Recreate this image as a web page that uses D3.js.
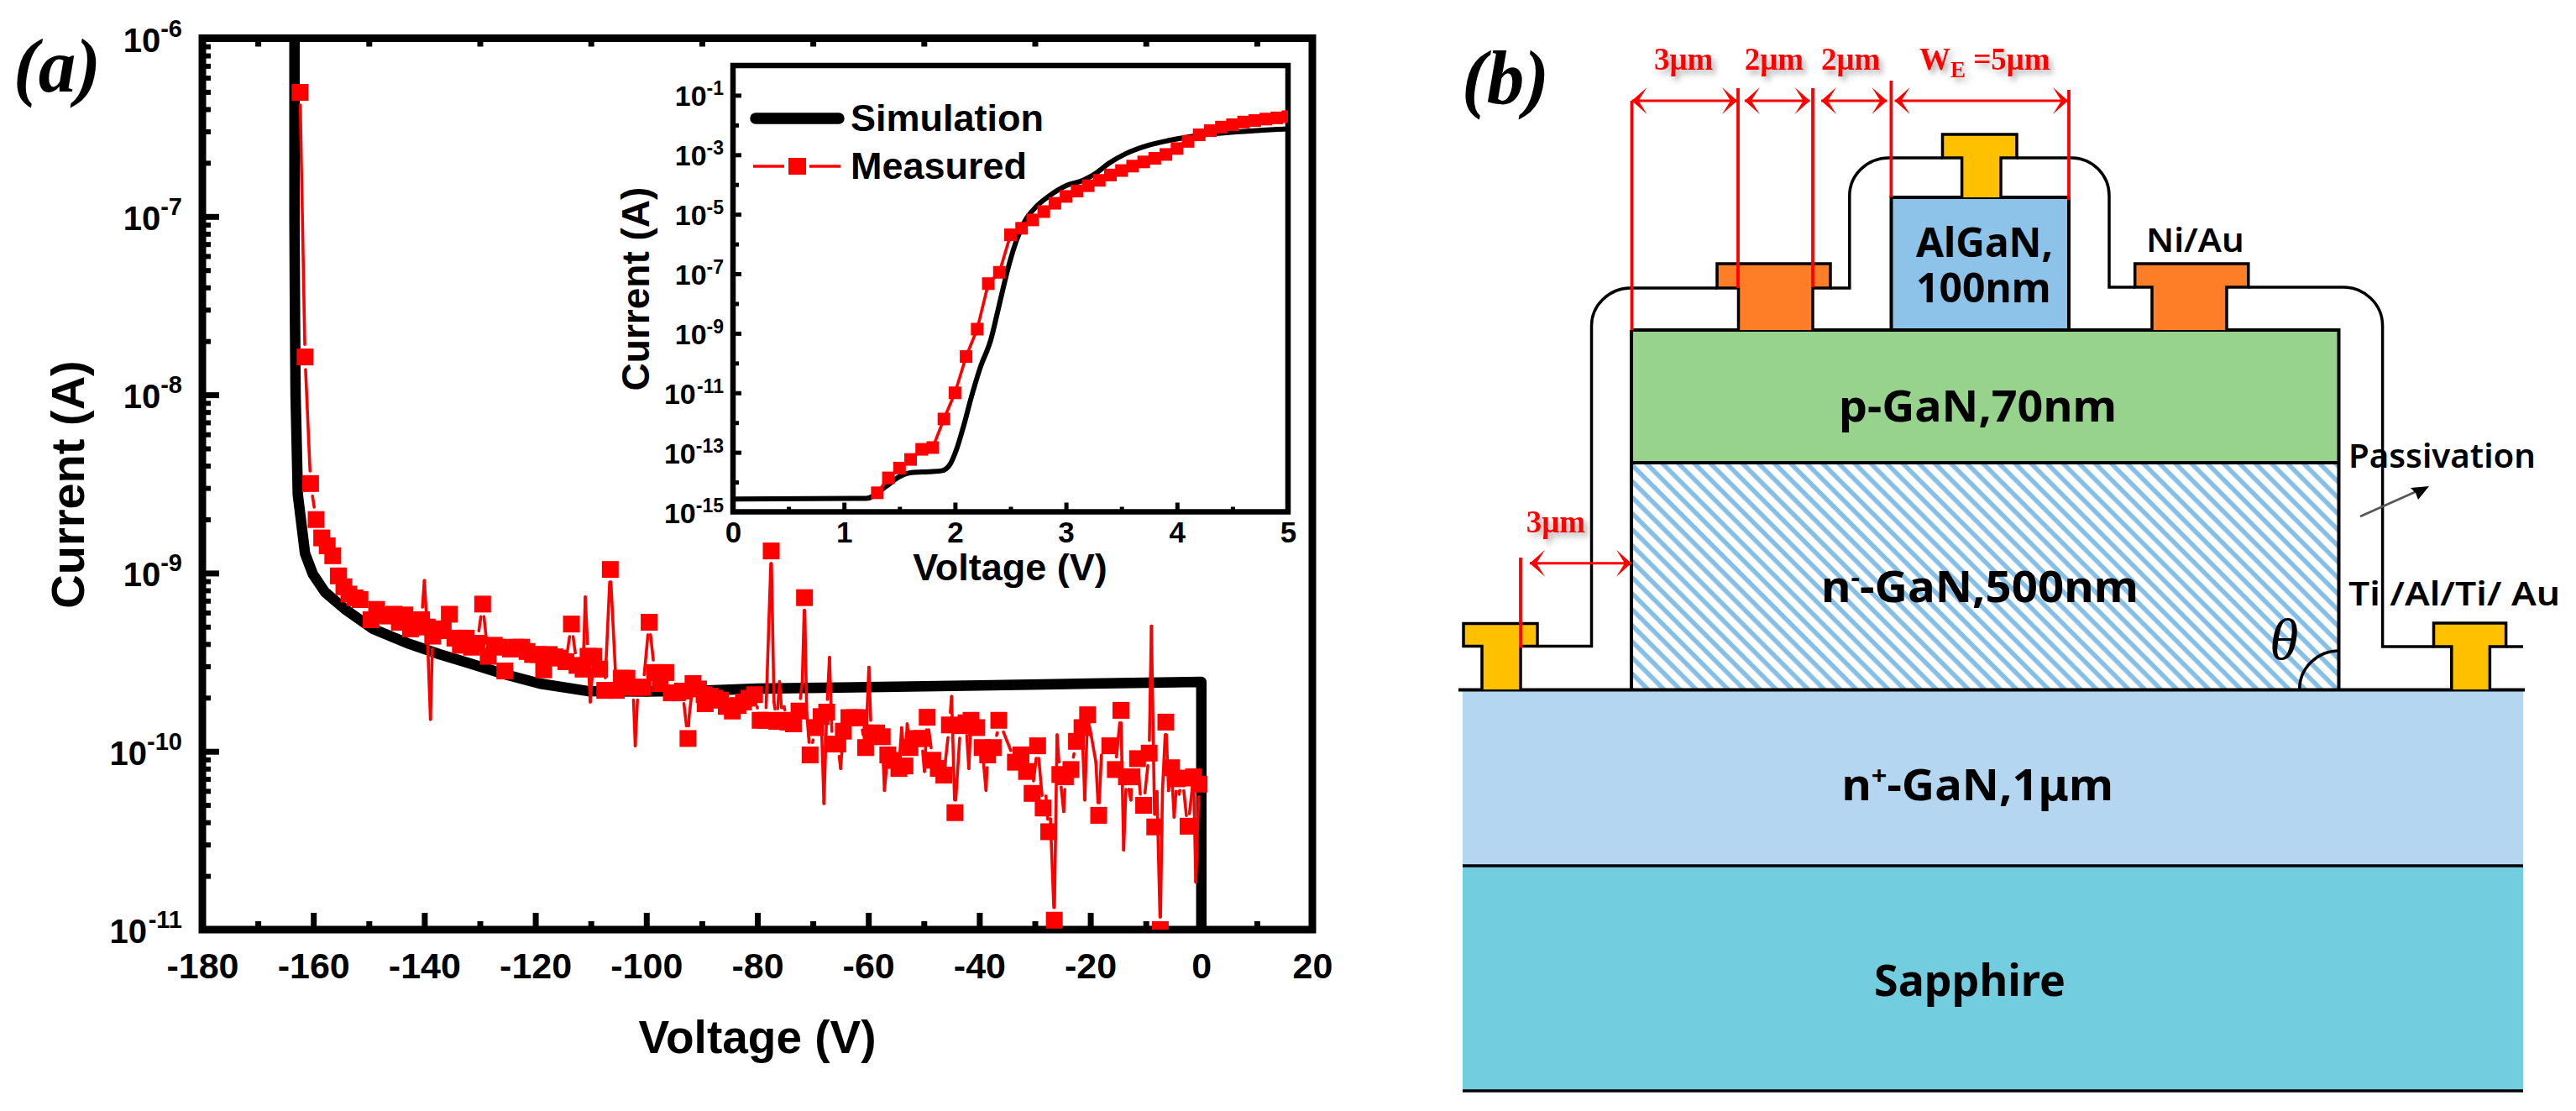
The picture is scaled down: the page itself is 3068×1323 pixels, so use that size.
<!DOCTYPE html>
<html><head><meta charset="utf-8">
<script src="https://cdn.jsdelivr.net/npm/d3@7"></script>
<style>html,body{margin:0;padding:0;background:#fff}svg{display:block}</style></head>
<body><div id="chart"></div>
<script>
// ---------- Panel (a): data, current given as log10(I/A) ----------
const simV=[-163.4,-163.4,-163.3,-163.2,-162.8,-161.5,-160.1,-157.9,-154,-149.2,-143,-137.3,-131.8,-125.5,-119.2,-110.6,-100,-90,-80,-60,-40,-20,0,0];
const simLog=[-6,-7,-7.6,-8,-8.56,-8.89,-9.005,-9.107,-9.21,-9.314,-9.394,-9.455,-9.507,-9.568,-9.62,-9.662,-9.665,-9.66,-9.648,-9.64,-9.63,-9.62,-9.61,-11];
const markerV=[-162.4,-161.5,-160.5,-159.5,-158.5,-157.5,-156.5,-155.5,-154.5,-153.6,-152.5,-151.6,-149.6,-148.6,-147.5,-146.5,-145.5,-144.5,-143.5,-142.5,-141.5,-140.5,-139.5,-138.5,-137.4,-136.6,-135.5,-134.5,-133.5,-132.5,-131.5,-130.5,-129.5,-128.5,-127.4,-126.5,-125.5,-124.5,-123.5,-122.5,-121.5,-120.5,-119.5,-118.5,-117.5,-116.5,-115.5,-114.5,-113.5,-112.5,-111.4,-110.5,-109.5,-108.4,-107.5,-106.5,-105.4,-104.5,-103.5,-102.4,-101.5,-100.6,-99.5,-98.5,-97.5,-96.5,-95.5,-94.4,-93.5,-92.5,-91.6,-90.6,-89.6,-89.4,-88.6,-87.7,-86.6,-85.6,-84.5,-83.5,-82.5,-81.5,-80.5,-79.5,-78.5,-77.5,-76.5,-75.5,-74.5,-73.5,-72.5,-71.5,-70.5,-69.5,-68.5,-67.5,-66.5,-65.5,-64.5,-63.5,-62.5,-61.5,-60.5,-59.5,-58.5,-57.5,-56.5,-55.5,-54.5,-53.4,-52.5,-51.4,-50.4,-49.4,-48.4,-47.4,-46.4,-45.4,-44.4,-43.4,-42.4,-41.5,-40.5,-39.5,-38.5,-37.5,-36.5,-33.5,-32.5,-31.5,-30.5,-29.5,-28.5,-27.5,-26.5,-25.5,-24.5,-23.5,-22.5,-21.5,-20.5,-18.5,-16.5,-15.5,-14.5,-13.5,-12.5,-11.5,-10.4,-9.4,-8.4,-7.4,-6.4,-5.4,-4.4,-3.4,-2.4,-1.4,-0.4];
const markerLog=[-6.304,-7.788,-8.498,-8.70,-8.803,-8.847,-8.903,-9.016,-9.077,-9.118,-9.139,-9.149,-9.262,-9.204,-9.235,-9.241,-9.231,-9.276,-9.235,-9.313,-9.282,-9.262,-9.303,-9.354,-9.313,-9.323,-9.231,-9.365,-9.405,-9.365,-9.416,-9.394,-9.174,-9.467,-9.405,-9.416,-9.549,-9.426,-9.416,-9.416,-9.44,-9.457,-9.457,-9.543,-9.457,-9.47,-9.477,-9.497,-9.286,-9.518,-9.539,-9.467,-9.467,-9.539,-9.658,-8.98,-9.658,-9.59,-9.59,-9.641,-9.641,-9.641,-9.276,-9.558,-9.62,-9.558,-9.672,-9.672,-9.662,-9.928,-9.62,-9.65,-9.682,-9.733,-9.69,-9.702,-9.713,-9.748,-9.774,-9.743,-9.723,-9.702,-9.682,-9.826,-9.826,-8.876,-9.832,-9.826,-9.836,-9.846,-9.774,-9.138,-10.02,-9.867,-9.805,-9.78,-9.959,-9.959,-9.887,-9.811,-9.811,-9.811,-9.979,-9.897,-9.897,-9.918,-10.02,-10.051,-10.096,-10.082,-9.979,-9.928,-9.928,-9.809,-10.05,-10.096,-10.133,-9.852,-10.344,-9.856,-9.84,-9.826,-9.867,-9.979,-10.02,-9.979,-9.826,-10.061,-10.02,-10.113,-10.236,-9.969,-10.318,-10.451,-10.947,-10.13,-10.143,-10.102,-9.944,-9.867,-9.795,-10.359,-9.969,-10.102,-9.77,-10.143,-10.143,-10.041,-10.303,-10.01,-10.424,-11,-9.836,-10.092,-10.154,-10.15,-10.42,-10.143,-10.184];
const spikeV=[-140,-138.9,-111,-110.1,-102,-92.3,-77,-76,-75.2,-71.9,-71.1,-68,-67,-65,-59.9,-57.1,-54,-53,-49.9,-45,-41.9,-38.8,-36.8,-28,-27.2,-26,-24.8,-21,-19,-18,-14,-12.7,-11,-9,-8,-7,-5.9,-4.9,-4,-2.7,-1];
const spikeLog=[-9.042,-9.821,-9.134,-9.723,-9.969,-9.805,-9.723,-9.61,-9.75,-9.61,-9.785,-10.293,-9.473,-10.096,-9.528,-10.219,-9.867,-9.846,-10.113,-9.692,-10.096,-10.219,-9.9,-10.25,-10.379,-9.908,-10.338,-10.273,-10.06,-10.02,-10.554,-10.273,-10.24,-9.298,-10.225,-10.215,-10.22,-10.369,-10.24,-10.36,-10.734];
// inset
const insetSimV=[0,1.2,1.378,1.493,1.609,1.763,1.879,1.956,2.014,2.072,2.149,2.226,2.323,2.4,2.477,2.554,2.631,2.73,2.845,2.999,3.153,3.27,3.386,3.54,3.733,3.926,4.158,4.466,4.775,5];
const insetSimLog=[-14.57,-14.55,-14.15,-13.83,-13.68,-13.65,-13.62,-13.40,-12.90,-12.19,-11.12,-10.17,-9.21,-8.02,-6.83,-5.88,-5.22,-4.75,-4.39,-4.04,-3.86,-3.62,-3.29,-2.96,-2.69,-2.52,-2.37,-2.25,-2.17,-2.13];
const insetMeasV=[1.3,1.4,1.5,1.6,1.7,1.8,1.9,2.0,2.1,2.2,2.3,2.4,2.5,2.6,2.7,2.8,2.9,3.0,3.1,3.2,3.3,3.4,3.5,3.6,3.7,3.8,3.9,4.0,4.1,4.2,4.3,4.4,4.5,4.6,4.7,4.8,4.9,5.0];
const insetMeasLog=[-14.36,-13.86,-13.53,-13.24,-12.90,-12.84,-11.88,-11.0,-9.78,-8.86,-7.33,-6.95,-5.69,-5.47,-5.19,-4.91,-4.63,-4.40,-4.22,-4.04,-3.86,-3.68,-3.53,-3.38,-3.24,-3.12,-2.99,-2.79,-2.55,-2.33,-2.19,-2.07,-1.99,-1.90,-1.85,-1.80,-1.76,-1.72];
const xMajor=[-180,-160,-140,-120,-100,-80,-60,-40,-20,0,20];
const xMinor=[-170,-150,-130,-110,-90,-70,-50,-30,-10,10];
const yExponents=[-6,-7,-8,-9,-10,-11];
const insetXMajor=[0,1,2,3,4,5];
const insetXMinor=[0.5,1.5,2.5,3.5,4.5];
const insetYMajor=[-1,-3,-5,-7,-9,-11,-13,-15];
const insetYMinor=[-2,-4,-6,-8,-10,-12,-14];
const seriesNames=["Simulation","Measured"];
// ---------- Panel (b): labels ----------
const layerColors={sapphire:"#72CDDF",nPlus:"#B4D6F0",pGaN:"#97D38C",algan:"#8DC3E8",orange:"#FD7E26",gold:"#FFC000",hatch:"#85BFE8"};
const dimLabels=["3μm","2μm","2μm"];

const W=3068,H=1323;
const svg=d3.select("#chart").append("svg").attr("width",W).attr("height",H).attr("viewBox",[0,0,W,H]);
const AR="'Liberation Sans',Arial,sans-serif", TM="'Liberation Serif','Times New Roman',serif", NS="'Noto Sans',sans-serif";
const pow=e=>Math.pow(10,e);

function frame(g,x0,y0,x1,y1,sw){g.append("rect").attr("x",x0).attr("y",y0).attr("width",x1-x0).attr("height",y1-y0).attr("fill","none").attr("stroke","#000").attr("stroke-width",sw);}
function ticks(g,axis,tx,ty,w){const a=g.append("g").attr("transform",`translate(${tx},${ty})`).call(axis);a.select(".domain").remove();a.selectAll("line").attr("stroke","#000").attr("stroke-width",w);return a;}
function expLabel(g,xr,yt,e,f1,f2,d1,d2){
  const sw=(String(e).length-1)*0.556*f2+0.333*f2;
  g.append("text").attr("x",xr-sw).attr("y",yt+d1).attr("text-anchor","end").attr("font-family",AR).attr("font-weight",700).attr("font-size",f1).text("10");
  g.append("text").attr("x",xr).attr("y",yt+d2).attr("text-anchor","end").attr("font-family",AR).attr("font-weight",700).attr("font-size",f2).text(e);
}
// ---- main plot
const L=241,R=1563,T=45.5,B=1107;
const x=d3.scaleLinear().domain([-180,20]).range([L,R]);
const y=d3.scaleLog().domain([1e-11,1e-6]).range([B,T]);
const a=svg.append("g");
const defs=svg.append("defs");
defs.append("clipPath").attr("id","mainClip").append("rect").attr("x",L).attr("y",T).attr("width",R-L).attr("height",B-T);
frame(a,L,T,R,B,9);
ticks(a,d3.axisTop(x).tickValues(xMajor.slice(1,-1)).tickSize(20).tickFormat(""),0,B,7);
ticks(a,d3.axisTop(x).tickValues(xMinor).tickSize(10).tickFormat(""),0,B,7);
ticks(a,d3.axisBottom(x).tickValues(xMinor).tickSize(10).tickFormat(""),0,T,7);
const yMinorVals=[];yExponents.slice(0,-1).forEach(e=>d3.range(2,10).forEach(m=>yMinorVals.push(m*pow(e-1))));
ticks(a,d3.axisRight(y).tickValues(yExponents.slice(1,-1).map(pow)).tickSize(20).tickFormat(""),L,0,7);
ticks(a,d3.axisRight(y).tickValues(yMinorVals).tickSize(10).tickFormat(""),L,0,6);
const xl=a.append("g").attr("transform",`translate(0,${B})`).call(d3.axisBottom(x).tickValues(xMajor).tickSize(0).tickPadding(27).tickFormat(d=>String(d)));
xl.select(".domain").remove();xl.selectAll("text").attr("font-family",AR).attr("font-weight",700).attr("font-size",43).attr("fill","#000");
yExponents.forEach(e=>expLabel(a,217,y(pow(e)),e,40,29,16,-2));
const mainG=a.append("g").attr("clip-path","url(#mainClip)");
const simPts=simV.map((v,i)=>[x(v),y(pow(simLog[i]))]);
mainG.append("path").attr("d",d3.line()(simPts)).attr("fill","none").attr("stroke","#000").attr("stroke-width",12.5).attr("stroke-linejoin","round").attr("stroke-linecap","round");
// measured line with gap round each symbol
const meas=[...markerV.map((v,i)=>({v,l:markerLog[i],m:true})),...spikeV.map((v,i)=>({v,l:spikeLog[i],m:false}))].sort((p,q)=>p.v-q.v);
const GAP=15,segs=[];
for(let i=0;i<meas.length-1;i++){
  const p=meas[i],q=meas[i+1];
  const x1=x(p.v),y1=y(pow(p.l)),x2=x(q.v),y2=y(pow(q.l));
  const len=Math.hypot(x2-x1,y2-y1),g1=p.m?GAP:0,g2=q.m?GAP:0;
  if(len<=g1+g2)continue;
  const ux=(x2-x1)/len,uy=(y2-y1)/len;
  segs.push([[x1+ux*g1,y1+uy*g1],[x2-ux*g2,y2-uy*g2]]);
}
mainG.selectAll(".seg").data(segs).enter().append("path").attr("d",d3.line()).attr("fill","none").attr("stroke","#f00").attr("stroke-width",3.6).attr("stroke-linecap","round");
mainG.selectAll(".mk").data(markerV).enter().append("rect").attr("x",d=>x(d)-10).attr("y",(d,i)=>y(pow(markerLog[i]))-10).attr("width",20).attr("height",20).attr("fill","#f00");
// axis titles
a.append("text").attr("x",902).attr("y",1254).attr("text-anchor","middle").attr("font-family",AR).attr("font-weight",700).attr("font-size",55).text("Voltage (V)");
a.append("text").attr("transform","translate(100,577) rotate(-90)").attr("text-anchor","middle").attr("font-family",AR).attr("font-weight",700).attr("font-size",56).text("Current (A)");
svg.append("text").attr("x",16).attr("y",109).attr("font-family",TM).attr("font-weight",700).attr("font-style","italic").attr("font-size",90).attr("textLength",104).attr("lengthAdjust","spacingAndGlyphs").text("(a)");
// ---- inset
const iL=873,iR=1534,iT=78,iB=609.5;
const ix=d3.scaleLinear().domain([0,5]).range([iL,iR]);
const iy=d3.scaleLog().domain([1e-15,1]).range([iB,iT]);
defs.append("clipPath").attr("id","insetClip").append("rect").attr("x",iL).attr("y",iT).attr("width",iR-iL).attr("height",iB-iT);
const n=svg.append("g");
frame(n,iL,iT,iR,iB,6.5);
ticks(n,d3.axisTop(ix).tickValues(insetXMajor.slice(1,-1)).tickSize(11).tickFormat(""),0,iB,5);
ticks(n,d3.axisTop(ix).tickValues(insetXMinor).tickSize(6).tickFormat(""),0,iB,5);
ticks(n,d3.axisRight(iy).tickValues(insetYMajor.slice(0,-1).map(pow)).tickSize(10).tickFormat(""),iL,0,5);
ticks(n,d3.axisRight(iy).tickValues(insetYMinor.map(pow)).tickSize(7).tickFormat(""),iL,0,5);
const ixl=n.append("g").attr("transform",`translate(0,${iB})`).call(d3.axisBottom(ix).tickValues(insetXMajor).tickSize(0).tickPadding(12).tickFormat(d=>String(d)));
ixl.select(".domain").remove();ixl.selectAll("text").attr("font-family",AR).attr("font-weight",700).attr("font-size",35).attr("fill","#000");
insetYMajor.forEach(e=>expLabel(n,862,iy(pow(e)),e,34,23,13,0));
n.append("text").attr("x",1203).attr("y",691).attr("text-anchor","middle").attr("font-family",AR).attr("font-weight",700).attr("font-size",45).text("Voltage (V)");
n.append("text").attr("transform","translate(773,344) rotate(-90)").attr("text-anchor","middle").attr("font-family",AR).attr("font-weight",700).attr("font-size",46).text("Current (A)");
const iG=n.append("g").attr("clip-path","url(#insetClip)");
iG.append("path").attr("d",d3.line().curve(d3.curveMonotoneX)(insetSimV.map((v,i)=>[ix(v),iy(pow(insetSimLog[i]))]))).attr("fill","none").attr("stroke","#000").attr("stroke-width",6);
iG.append("path").attr("d",d3.line()(insetMeasV.map((v,i)=>[ix(v),iy(pow(insetMeasLog[i]))]))).attr("fill","none").attr("stroke","#f00").attr("stroke-width",3.6);
iG.selectAll(".imk").data(insetMeasV).enter().append("rect").attr("x",d=>ix(d)-7.5).attr("y",(d,i)=>iy(pow(insetMeasLog[i]))-7.5).attr("width",15).attr("height",15).attr("fill","#f00");
// legend
n.append("line").attr("x1",900).attr("x2",999).attr("y1",141).attr("y2",141).attr("stroke","#000").attr("stroke-width",13.5).attr("stroke-linecap","round");
n.append("line").attr("x1",897).attr("x2",934).attr("y1",198).attr("y2",198).attr("stroke","#f00").attr("stroke-width",3.6);
n.append("line").attr("x1",964).attr("x2",1001).attr("y1",198).attr("y2",198).attr("stroke","#f00").attr("stroke-width",3.6);
n.append("rect").attr("x",939).attr("y",188).attr("width",21).attr("height",20).attr("fill","#f00");
[155.7,212.5].forEach((yy,i)=>n.append("text").attr("x",1013).attr("y",yy).attr("font-family",AR).attr("font-weight",700).attr("font-size",45).text(seriesNames[i]));

// ---------- Panel (b) ----------
const b=svg.append("g");
const pat=defs.append("pattern").attr("id","hatch").attr("width",13.5).attr("height",13.5).attr("patternUnits","userSpaceOnUse").attr("patternTransform","rotate(45)");
pat.append("rect").attr("width",13.5).attr("height",13.5).attr("fill","#fff");
pat.append("rect").attr("x",0).attr("width",13.5).attr("height",5.5).attr("fill",layerColors.hatch);
const sh=defs.append("filter").attr("id","shadow").attr("x","-20%").attr("y","-20%").attr("width","150%").attr("height","160%");
sh.append("feDropShadow").attr("dx",4).attr("dy",5).attr("stdDeviation",3.5).attr("flood-color","#888").attr("flood-opacity",0.7);
const bx0=1742,bx1=3005,mL=1943,mR=2785.5;
const rect=(x0,y0,x1,y1,f)=>b.append("rect").attr("x",x0).attr("y",y0).attr("width",x1-x0).attr("height",y1-y0).attr("fill",f);
rect(bx0,821,bx1,1031,layerColors.nPlus);
rect(bx0,1031,bx1,1299,layerColors.sapphire);
rect(mL,393,mR,551,layerColors.pGaN);
rect(mL,551,mR,821,"url(#hatch)");
rect(2252.5,235,2464,393,layerColors.algan);
const blk=(d,w=3.5)=>b.append("path").attr("d",d).attr("fill","none").attr("stroke","#000").attr("stroke-width",w).attr("stroke-linejoin","miter");
const tee=(c0,c1,s0,s1,y0,y1,y2,f)=>b.append("path").attr("d",`M${s0},${y2}V${y1}H${c0}V${y0}H${c1}V${y1}H${s1}V${y2}`).attr("fill",f).attr("stroke","#000").attr("stroke-width",3.5);
// base lines
blk(`M${bx0},1031H${bx1}`);blk(`M${bx0},1299H${bx1}`);
blk(`M1737,821.5H3007`,4);
blk(`M${mL},393H${mR}V821.5M${mL},393V821.5M${mL},551H${mR}`,4);
blk(`M2252.5,393V235H2464V393`,4);
tee(2045,2180,2070.5,2159,314,343,393,layerColors.orange);
tee(2542.7,2677.8,2563,2652,314,342,393,layerColors.orange);
tee(2313.5,2402,2336.6,2383,160,188,235,layerColors.gold);
tee(1743,1831,1765,1811,742.5,769.5,821,layerColors.gold);
tee(2898.5,2984.6,2919.8,2965.4,742,770,821,layerColors.gold);
// passivation
blk(`M1831,769.5H1895.5V388A47,45 0 0 1 1941,343H2045`);
blk(`M2180,343H2202.8V233A47,45 0 0 1 2250,188H2313.5`);
blk(`M2402,188H2468A45,45 0 0 1 2512,233V342H2542.7`);
blk(`M2677.8,342H2790A47,46 0 0 1 2837.6,388V770H2898.5`);
blk(`M2984.6,770H3005`);
blk(`M2738.7,821A47,46 0 0 1 2785.5,775`,3.5);
// red dims
const red=(d,w=3.8)=>b.append("path").attr("d",d).attr("fill","none").attr("stroke","#f00").attr("stroke-width",w);
[[1943.5,120,393],[2070,105,343],[2159,105,342],[2252.4,96,235],[2464,107,238],[1811,664,771.5]].forEach(v=>red(`M${v[0]},${v[1]}V${v[2]}`));
function arrow(xa,xb,yy){
  red(`M${xa},${yy}H${xb}`,3);
  [[xa,1],[xb,-1]].forEach(([t,s])=>b.append("path").attr("d",`M${t},${yy}L${t+s*18},${yy-16}L${t+s*8},${yy}L${t+s*18},${yy+16}Z`).attr("fill","#f00"));
}
arrow(1943.5,2069,120);arrow(2077.8,2155.6,120);arrow(2169,2247.4,120);arrow(2256.6,2463,120);arrow(1822,1943,670.7);
const rt=(xx,yy,t)=>b.append("text").attr("x",xx).attr("y",yy).attr("font-family",TM).attr("font-weight",700).attr("font-size",37).attr("fill","#f00").attr("filter","url(#shadow)").text(t);
rt(1970,83,dimLabels[0]);rt(2077.8,83,dimLabels[1]);rt(2169,83,dimLabels[2]);rt(1817.7,634,dimLabels[0]);
const we=b.append("text").attr("x",2286).attr("y",83).attr("font-family",TM).attr("font-weight",700).attr("font-size",37).attr("fill","#f00").attr("filter","url(#shadow)");
we.append("tspan").text("W");we.append("tspan").attr("dy",9).attr("font-size",27).text("E");we.append("tspan").attr("dy",-9).text(" =5μm");
// black labels: [x, baseline, font size, width, weight, pieces]
const lab=(xx,yy,fs,w,weight,parts)=>{
  const t=b.append("text").attr("x",xx).attr("y",yy).attr("font-family",NS).attr("font-weight",weight).attr("font-size",fs).attr("fill","#000").attr("textLength",w).attr("lengthAdjust","spacingAndGlyphs");
  let raised=false;
  parts.forEach(p=>{
    const ts=t.append("tspan");
    if(typeof p==="string"){ if(raised){ts.attr("dy",fs*0.36);raised=false;} ts.text(p);}
    else { ts.attr("dy",-fs*0.36).attr("font-size",fs*0.6).text(p.sup);raised=true;}
  });
};
lab(2282,306,48,163,700,["AlGaN,"]);
lab(2282,360,48,160.6,700,["100nm"]);
lab(2190,502,52,331,700,["p-GaN,70nm"]);
lab(2169,717,52,378,700,["n",{sup:"-"},"-GaN,500nm"]);
lab(2193.5,953,52,323.5,700,["n",{sup:"+"},"-GaN,1μm"]);
lab(2232,1186,52,228,700,["Sapphire"]);
lab(2556,300,40,116.7,600,["Ni/Au"]);
lab(2797,557,40,223,600,["Passivation"]);
lab(2797,720.6,40,252,600,["Ti /Al/Ti/ Au"]);
b.append("text").attr("x",2703).attr("y",785).attr("font-family",TM).attr("font-style","italic").attr("font-size",70).text("θ");
b.append("line").attr("x1",2811).attr("y1",615).attr("x2",2885).attr("y2",582).attr("stroke","#555").attr("stroke-width",2.5);
b.append("path").attr("d","M2893,579L2871,581L2877,587L2880,595Z").attr("fill","#000");
svg.append("text").attr("x",1741).attr("y",123).attr("font-family",TM).attr("font-weight",700).attr("font-style","italic").attr("font-size",90).attr("textLength",104).attr("lengthAdjust","spacingAndGlyphs").text("(b)");
</script></body></html>
